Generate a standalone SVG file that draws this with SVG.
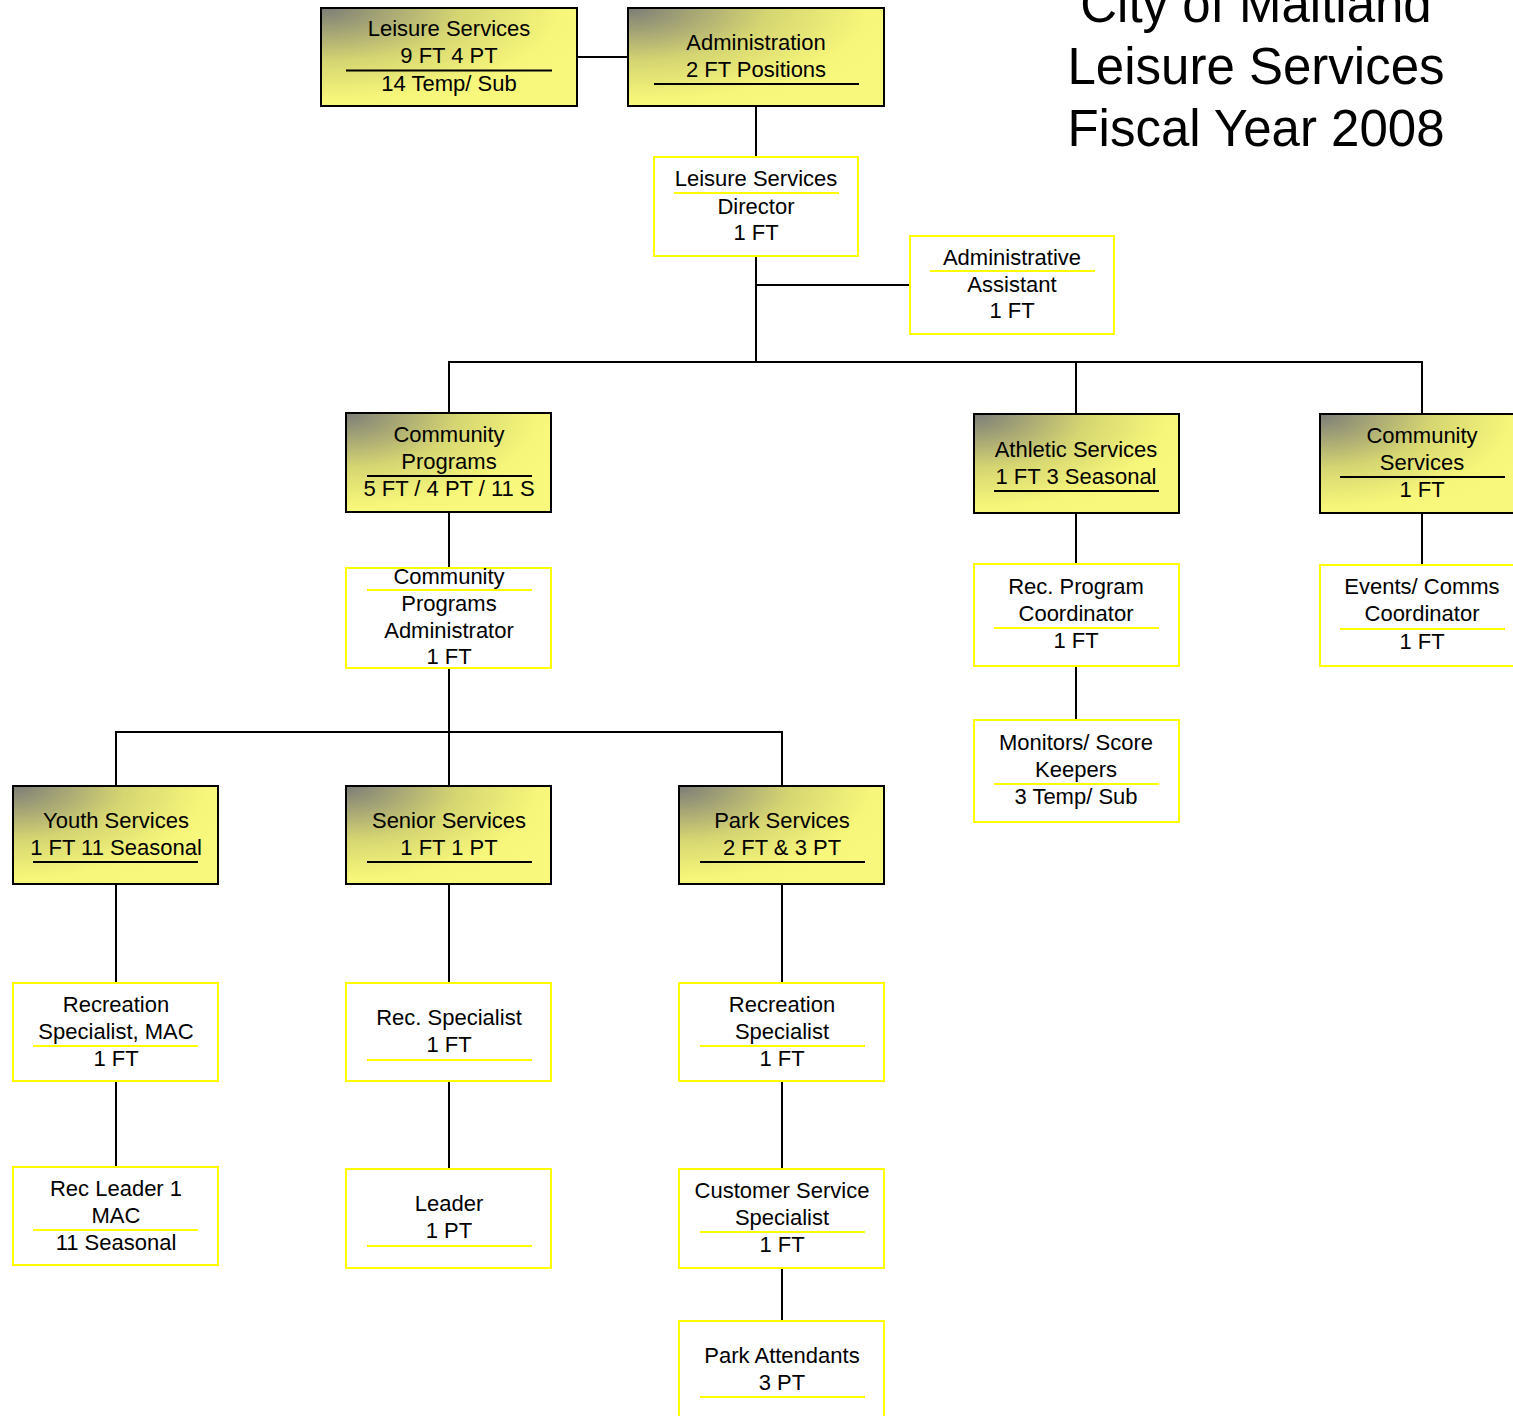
<svg xmlns="http://www.w3.org/2000/svg" width="1513" height="1416" viewBox="0 0 1513 1416">
<defs>
<radialGradient id="g" cx="0" cy="0" r="1.1" fx="0" fy="0">
<stop offset="0" stop-color="#7c7c78"/>
<stop offset="0.5" stop-color="#d6d672"/>
<stop offset="0.85" stop-color="#f6f67a"/>
<stop offset="1" stop-color="#f8f87c"/>
</radialGradient>
<style>
.hd{fill:url(#g);stroke:#000;stroke-width:2}
.bx{fill:#fff;stroke:#ffff00;stroke-width:2}
.t{font-family:"Liberation Sans",Arial,sans-serif;font-size:22px;fill:#000;text-anchor:middle}
.ttl{font-family:"Liberation Sans",Arial,sans-serif;font-size:51px;fill:#000;text-anchor:middle}
.ub{stroke:#000;stroke-width:2}
.uy{stroke:#ffff00;stroke-width:2}
.c{stroke:#000;stroke-width:2;fill:none}
</style>
</defs>
<rect width="1513" height="1416" fill="#fff"/>
<g id="title">
<text class="ttl" x="1256" y="22">City of Maitland</text>
<text class="ttl" x="1256" y="84">Leisure Services</text>
<text class="ttl" x="1256" y="146">Fiscal Year 2008</text>
</g>
<g id="connectors">
<line class="c" x1="577" y1="57" x2="628" y2="57"/>
<line class="c" x1="756" y1="106" x2="756" y2="157"/>
<line class="c" x1="756" y1="256" x2="756" y2="362"/>
<line class="c" x1="756" y1="285" x2="910" y2="285"/>
<line class="c" x1="449" y1="362" x2="1422" y2="362"/>
<line class="c" x1="449" y1="361" x2="449" y2="413"/>
<line class="c" x1="1076" y1="361" x2="1076" y2="414"/>
<line class="c" x1="1422" y1="361" x2="1422" y2="414"/>
<line class="c" x1="449" y1="512" x2="449" y2="568"/>
<line class="c" x1="1076" y1="513" x2="1076" y2="564"/>
<line class="c" x1="1422" y1="513" x2="1422" y2="565"/>
<line class="c" x1="1076" y1="666" x2="1076" y2="720"/>
<line class="c" x1="449" y1="668" x2="449" y2="786"/>
<line class="c" x1="116" y1="732" x2="782" y2="732"/>
<line class="c" x1="116" y1="731" x2="116" y2="786"/>
<line class="c" x1="782" y1="731" x2="782" y2="786"/>
<line class="c" x1="116" y1="884" x2="116" y2="983"/>
<line class="c" x1="449" y1="884" x2="449" y2="983"/>
<line class="c" x1="782" y1="884" x2="782" y2="983"/>
<line class="c" x1="116" y1="1081" x2="116" y2="1167"/>
<line class="c" x1="449" y1="1081" x2="449" y2="1169"/>
<line class="c" x1="782" y1="1081" x2="782" y2="1169"/>
<line class="c" x1="782" y1="1268" x2="782" y2="1321"/>
</g>
<g id="leisure-services">
<rect class="hd" x="321" y="8" width="256" height="98"/>
<text class="t" x="449" y="36">Leisure Services</text>
<text class="t" x="449" y="63">9 FT 4 PT</text>
<line class="ub" x1="346" y1="70.5" x2="552" y2="70.5"/>
<text class="t" x="449" y="91">14 Temp/ Sub</text>
</g>
<g id="administration">
<rect class="hd" x="628" y="8" width="256" height="98"/>
<text class="t" x="756" y="50">Administration</text>
<text class="t" x="756" y="77">2 FT Positions</text>
<line class="ub" x1="654" y1="84" x2="859" y2="84"/>
</g>
<g id="director">
<rect class="bx" x="654" y="157" width="204" height="99"/>
<text class="t" x="756" y="186">Leisure Services</text>
<line class="uy" x1="674" y1="193" x2="839" y2="193"/>
<text class="t" x="756" y="214">Director</text>
<text class="t" x="756" y="240">1 FT</text>
</g>
<g id="admin-assistant">
<rect class="bx" x="910" y="236" width="204" height="98"/>
<text class="t" x="1012" y="265">Administrative</text>
<line class="uy" x1="930" y1="271" x2="1095" y2="271"/>
<text class="t" x="1012" y="292">Assistant</text>
<text class="t" x="1012" y="318">1 FT</text>
</g>
<g id="community-programs">
<rect class="hd" x="346" y="413" width="205" height="99"/>
<text class="t" x="449" y="442">Community</text>
<text class="t" x="449" y="469">Programs</text>
<line class="ub" x1="367" y1="476" x2="532" y2="476"/>
<text class="t" x="449" y="496">5 FT / 4 PT / 11 S</text>
</g>
<g id="athletic-services">
<rect class="hd" x="974" y="414" width="205" height="99"/>
<text class="t" x="1076" y="457">Athletic Services</text>
<text class="t" x="1076" y="484">1 FT 3 Seasonal</text>
<line class="ub" x1="994" y1="491" x2="1159" y2="491"/>
</g>
<g id="community-services">
<rect class="hd" x="1320" y="414" width="205" height="99"/>
<text class="t" x="1422" y="443">Community</text>
<text class="t" x="1422" y="470">Services</text>
<line class="ub" x1="1340" y1="477" x2="1505" y2="477"/>
<text class="t" x="1422" y="497">1 FT</text>
</g>
<g id="cp-administrator">
<rect class="bx" x="346" y="568" width="205" height="100"/>
<text class="t" x="449" y="584">Community</text>
<line class="uy" x1="367" y1="590" x2="532" y2="590"/>
<text class="t" x="449" y="611">Programs</text>
<text class="t" x="449" y="638">Administrator</text>
<text class="t" x="449" y="664">1 FT</text>
</g>
<g id="rec-program-coordinator">
<rect class="bx" x="974" y="564" width="205" height="102"/>
<text class="t" x="1076" y="594">Rec. Program</text>
<text class="t" x="1076" y="621">Coordinator</text>
<line class="uy" x1="994" y1="628" x2="1159" y2="628"/>
<text class="t" x="1076" y="648">1 FT</text>
</g>
<g id="events-comms-coordinator">
<rect class="bx" x="1320" y="565" width="205" height="101"/>
<text class="t" x="1422" y="594">Events/ Comms</text>
<text class="t" x="1422" y="621">Coordinator</text>
<line class="uy" x1="1340" y1="629" x2="1505" y2="629"/>
<text class="t" x="1422" y="649">1 FT</text>
</g>
<g id="monitors-score-keepers">
<rect class="bx" x="974" y="720" width="205" height="102"/>
<text class="t" x="1076" y="750">Monitors/ Score</text>
<text class="t" x="1076" y="777">Keepers</text>
<line class="uy" x1="994" y1="784" x2="1159" y2="784"/>
<text class="t" x="1076" y="804">3 Temp/ Sub</text>
</g>
<g id="youth-services">
<rect class="hd" x="13" y="786" width="205" height="98"/>
<text class="t" x="116" y="828">Youth Services</text>
<text class="t" x="116" y="855">1 FT 11 Seasonal</text>
<line class="ub" x1="33" y1="862" x2="198" y2="862"/>
</g>
<g id="senior-services">
<rect class="hd" x="346" y="786" width="205" height="98"/>
<text class="t" x="449" y="828">Senior Services</text>
<text class="t" x="449" y="855">1 FT 1 PT</text>
<line class="ub" x1="367" y1="862" x2="532" y2="862"/>
</g>
<g id="park-services">
<rect class="hd" x="679" y="786" width="205" height="98"/>
<text class="t" x="782" y="828">Park Services</text>
<text class="t" x="782" y="855">2 FT &amp; 3 PT</text>
<line class="ub" x1="700" y1="862" x2="865" y2="862"/>
</g>
<g id="rec-specialist-mac">
<rect class="bx" x="13" y="983" width="205" height="98"/>
<text class="t" x="116" y="1012">Recreation</text>
<text class="t" x="116" y="1039">Specialist, MAC</text>
<line class="uy" x1="33" y1="1046" x2="198" y2="1046"/>
<text class="t" x="116" y="1066">1 FT</text>
</g>
<g id="rec-specialist">
<rect class="bx" x="346" y="983" width="205" height="98"/>
<text class="t" x="449" y="1025">Rec. Specialist</text>
<text class="t" x="449" y="1052">1 FT</text>
<line class="uy" x1="367" y1="1060" x2="532" y2="1060"/>
</g>
<g id="recreation-specialist">
<rect class="bx" x="679" y="983" width="205" height="98"/>
<text class="t" x="782" y="1012">Recreation</text>
<text class="t" x="782" y="1039">Specialist</text>
<line class="uy" x1="700" y1="1046" x2="865" y2="1046"/>
<text class="t" x="782" y="1066">1 FT</text>
</g>
<g id="rec-leader-mac">
<rect class="bx" x="13" y="1167" width="205" height="98"/>
<text class="t" x="116" y="1196">Rec Leader 1</text>
<text class="t" x="116" y="1223">MAC</text>
<line class="uy" x1="33" y1="1230" x2="198" y2="1230"/>
<text class="t" x="116" y="1250">11 Seasonal</text>
</g>
<g id="leader">
<rect class="bx" x="346" y="1169" width="205" height="99"/>
<text class="t" x="449" y="1211">Leader</text>
<text class="t" x="449" y="1238">1 PT</text>
<line class="uy" x1="367" y1="1246" x2="532" y2="1246"/>
</g>
<g id="customer-service-specialist">
<rect class="bx" x="679" y="1169" width="205" height="99"/>
<text class="t" x="782" y="1198">Customer Service</text>
<text class="t" x="782" y="1225">Specialist</text>
<line class="uy" x1="700" y1="1232" x2="865" y2="1232"/>
<text class="t" x="782" y="1252">1 FT</text>
</g>
<g id="park-attendants">
<rect class="bx" x="679" y="1321" width="205" height="110"/>
<text class="t" x="782" y="1363">Park Attendants</text>
<text class="t" x="782" y="1390">3 PT</text>
<line class="uy" x1="700" y1="1397" x2="865" y2="1397"/>
</g>
</svg>
